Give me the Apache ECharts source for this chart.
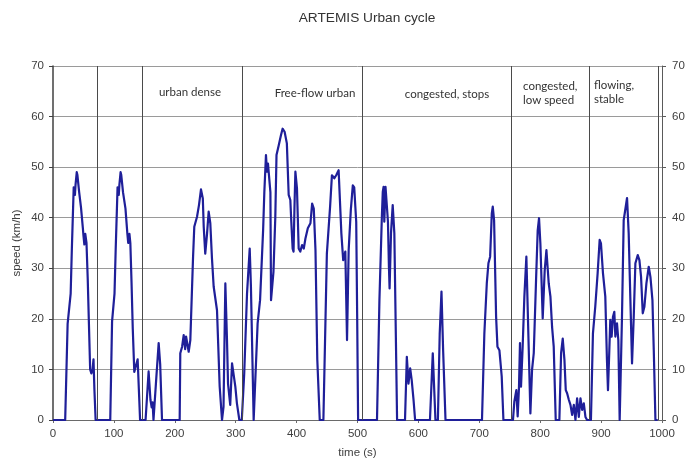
<!DOCTYPE html>
<html>
<head>
<meta charset="utf-8">
<script src="https://cdn.jsdelivr.net/npm/echarts@6/dist/echarts.min.js"></script>
<style>
  html, body { margin: 0; padding: 0; background: #ffffff; }
  #chart { width: 696px; height: 460px; }
</style>
</head>
<body>
<div id="chart"></div>
<script>
// ARTEMIS urban driving cycle: time (s) and vehicle speed (km/h)
const timeS = [
  0, 20, 24, 29, 31, 33, 34, 36, 37, 39, 40, 43, 46, 49, 50, 51.5, 53, 55, 57, 59, 61, 63, 65, 66.5, 68, 70,
  94, 97, 101, 103, 105, 106, 108, 109, 111, 112, 115, 119, 122, 123.5, 125.5, 127, 129, 131, 133.5, 136, 139, 141, 143,
  152, 157, 160, 162, 163.5, 165, 166, 169, 173.5, 176, 179,
  208, 209, 212, 214.6, 217, 218.5, 220, 222.8, 225.5, 228, 230, 232, 236.5, 239.7, 243, 246, 247.5, 250, 253, 255.6, 258.3,
  261, 263.8, 269.3, 273.7, 277.5, 280, 283, 285.7, 287.4, 291, 294, 296.7, 299.4, 302, 306,
  310, 314, 318.6, 323, 325, 329.5, 332, 336, 340, 345, 347, 349.7, 351.4, 353, 355.8, 357, 358,
  362, 365, 367, 370.6, 374.3, 377, 380.3, 384, 387, 389.7, 391.3, 393.5, 395, 396.5, 398, 400.6, 403.4, 406, 409, 411.8,
  414.5, 418.4, 422.7, 425.5, 428.2, 431, 434, 438, 444, 449.7, 455, 458, 462, 465, 469, 471.6, 473.5, 476.5, 480, 482.8,
  485.5, 489, 492.3, 494.6, 497.9, 499.5, 501,
  532, 536, 540, 541.5, 542.8, 544, 546, 548.3, 550, 551.6, 552.7, 555, 557.8, 560.5, 565,
  578, 581, 583.7, 586.5, 589, 592, 594.6, 619, 623.6, 628, 632, 635, 637.9, 640.6, 644.5,
  704.4, 708.3, 712.3, 715, 717.8, 720.5, 722.1, 724.3, 727.6, 729.8, 733, 736.8, 739.6,
  755.3, 757.5, 760.8, 763, 765.2, 766.8, 768.5, 771.2, 774, 777.3, 779.5, 783.9, 786.6, 789.4, 793.2, 795.9, 798.1,
  800.3, 804.1, 807.4, 810.2, 814, 816.8, 819.5, 822.2, 825.5, 831.5, 834.3, 837, 839.8, 842, 844.2, 847, 849.7, 852.4,
  855.2, 857.9, 860.6, 863.4, 866.1, 868.9, 871.6, 874.3, 877,
  883.3, 886.6, 890.4, 894.3, 897.6, 899.8, 903.1, 906.9, 909.6, 911.3, 913.5, 915.1, 917.3, 919.5, 921.7, 923.4, 926.1,
  928.3, 930.5, 934.3, 937.1, 942.6, 945.3, 948.1, 950.8, 953.6, 956.3, 960.2, 962.9, 965.6, 968.4, 971.1, 974.4, 978.2,
  981, 984.3, 986.5, 989.2, 993
];
const speedKmh = [
  0, 0, 19, 25, 34, 42, 46, 44.5, 46.5, 49, 48.5, 45, 42, 38, 36.5, 34.7, 36.8, 35, 28, 19, 10, 9.2, 10, 12, 6, 0,
  0, 19.5, 25, 34, 42, 46, 44.5, 46.5, 49, 48.5, 45, 41.8, 37, 35, 36.8, 35, 27, 18, 9.5, 9.2, 12, 6, 0,
  0, 9.6, 4, 2.5, 3.5, 0, 0, 7.2, 15.2, 11, 0,
  0, 13.2, 14.5, 16.8, 14, 16.5, 16.8, 13.5, 15.8, 25, 32.3, 38.2, 40.2, 42.5, 45.6, 43.8, 38.2, 32.9, 36.9, 41.2, 38.9,
  32, 26.4, 21.7, 6.6, 0, 2.6, 27, 15.8, 7.2, 3, 11.2, 11.5, 6.6, 3.3, 0,
  0, 9.2, 25, 33.9, 26.4, 0, 0, 19.1, 23.7, 37.5, 45, 52.4, 49.1, 50.7, 50.4, 45, 23.7,
  29.3, 40, 52.4, 54.3, 56.3, 57.6, 57, 54.7, 44.5, 43.5, 39.2, 33.9, 33.3, 42, 49.1, 45.8, 33.9, 33.3, 34.6, 33.9,
  35.9, 37.9, 38.9, 42.8, 41.8, 33.6, 11.9, 0, 0, 32.9, 42.2, 48.4, 47.8, 48.4, 49.4, 49.4, 36.9, 31.6, 33.3, 15.8,
  33.6, 41.5, 46.4, 46, 39.2, 20, 0,
  0, 23.7, 40.2, 45.1, 46.1, 39.2, 46.1, 46, 39.2, 30.3, 26, 36.9, 42.5, 36.9, 0,
  0, 12.5, 7.2, 10.2, 7.9, 4, 0, 0, 13.2, 0, 0, 17.1, 25.4, 13.8, 0,
  0, 17.1, 27, 31, 32.3, 40.8, 42.2, 39.5, 20.4, 14.5, 13.8, 8.6, 0,
  0, 3.6, 5.9, 0.7, 6.6, 15.2, 6.6, 14.5, 24.4, 32.3, 32, 1.3, 9.9, 13.2, 27.7, 37.5, 39.9,
  34.9, 20.1, 29.6, 33.6, 27, 24.4, 18.4, 14.5, 0, 0, 13.2, 16.1, 11.9, 5.9, 5.3, 4, 3, 1,
  3, 0, 4.3, 0.6, 4.3, 2, 3.3, 0.6, 0,
  0, 17.1, 22.4, 29, 35.6, 34.9, 29, 24.4, 11.9, 5.9, 13.8, 19.8, 16.5, 20.4, 21.4, 16.5, 19.1,
  15.8, 0, 20.4, 39.5, 43.9, 36.9, 23.7, 11.2, 20.4, 31, 32.6, 31.6, 28.3, 21.1, 22.4, 27, 30.3,
  28.3, 23.7, 13.8, 0, 0
];

// Boundaries between the driving sub-cycles (s)
const sectionBounds = [73, 146, 310, 508, 752, 881, 994];

// Axis ranges and tick steps
const timeTicks = { min: 0, max: 1000, step: 100 };
const speedTicks = { min: 0, max: 70, step: 10 };

const points = timeS.map((t, i) => [t, speedKmh[i]]);

const chart = echarts.init(document.getElementById('chart'), null, { renderer: 'canvas' });

const axisFont = { fontFamily: '"Liberation Sans", Arial, sans-serif', fontSize: 11.5, color: '#404040' };
const noteFont = '11.5px Lato, "Open Sans", sans-serif';
const plainNumber = v => String(v);

chart.setOption({
  backgroundColor: '#ffffff',
  animation: false,
  title: {
    text: 'ARTEMIS Urban cycle',
    left: 362,
    top: 6,
    textAlign: 'center',
    textStyle: { fontFamily: '"Liberation Sans", Arial, sans-serif', fontSize: 13.7, fontWeight: 'normal', color: '#333333' }
  },
  grid: { left: 53, right: 34, top: 66, bottom: 40, containLabel: false, outerBoundsMode: 'none' },
  xAxis: {
    type: 'value',
    min: timeTicks.min, max: timeTicks.max, interval: timeTicks.step,
    name: 'time (s)', nameLocation: 'middle', nameGap: 27, nameMoveOverlap: false,
    nameTextStyle: axisFont,
    axisLine: { show: true, lineStyle: { color: '#6a6a6a', width: 1 } },
    axisTick: { show: true, length: 3, lineStyle: { color: '#6a6a6a' } },
    axisLabel: Object.assign({ margin: 8, formatter: plainNumber }, axisFont),
    splitLine: { show: false }
  },
  yAxis: [
    {
      type: 'value',
      min: speedTicks.min, max: speedTicks.max, interval: speedTicks.step,
      name: 'speed (km/h)', nameLocation: 'middle', nameGap: 30, nameMoveOverlap: false,
      nameTextStyle: axisFont,
      axisLine: { show: true, lineStyle: { color: '#404040', width: 1.5 } },
      axisTick: { show: true, length: 4, lineStyle: { color: '#404040' } },
      axisLabel: Object.assign({ margin: 9, formatter: plainNumber }, axisFont),
      splitLine: { show: true, lineStyle: { color: '#9a9a9a', width: 1 } }
    },
    {
      type: 'value', position: 'right',
      min: speedTicks.min, max: speedTicks.max, interval: speedTicks.step,
      axisLine: { show: true, lineStyle: { color: '#5a5a5a', width: 1 } },
      axisTick: { show: true, length: 4, lineStyle: { color: '#5a5a5a' } },
      axisLabel: Object.assign({ margin: 10, formatter: plainNumber }, axisFont),
      splitLine: { show: false }
    }
  ],
  series: [
    {
      type: 'line',
      data: points,
      showSymbol: false,
      symbol: 'none',
      lineStyle: { color: '#1f1f99', width: 2.2, join: 'round' },
      markLine: {
        silent: true,
        symbol: ['none', 'none'],
        label: { show: false },
        lineStyle: { color: '#4a4a4a', width: 1, type: 'solid' },
        data: sectionBounds.map(x => ({ xAxis: x }))
      },
      z: 3
    }
  ],
  graphic: [
    { type: 'text', x: 190, y: 92, style: { text: 'urban dense', font: noteFont, fill: '#333333', align: 'center', verticalAlign: 'middle' } },
    { type: 'text', x: 315, y: 93, style: { text: 'Free-flow urban', font: noteFont, fill: '#333333', align: 'center', verticalAlign: 'middle' } },
    { type: 'text', x: 447, y: 94.5, style: { text: 'congested, stops', font: noteFont, fill: '#333333', align: 'center', verticalAlign: 'middle' } },
    { type: 'text', x: 523, y: 80, style: { text: 'congested,\nlow speed', font: noteFont, fill: '#333333', align: 'left', verticalAlign: 'top', lineHeight: 13.5 } },
    { type: 'text', x: 594, y: 78.5, style: { text: 'flowing,\nstable', font: noteFont, fill: '#333333', align: 'left', verticalAlign: 'top', lineHeight: 14 } }
  ]
});
</script>
</body>
</html>
